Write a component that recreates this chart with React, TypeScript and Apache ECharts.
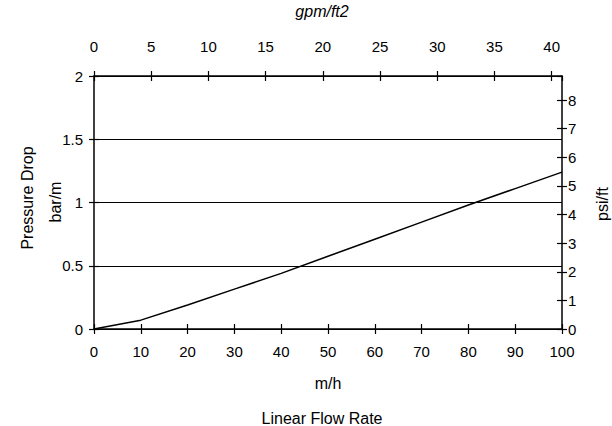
import React, { useEffect, useRef } from "react";
import * as echarts from "echarts";

// Linear flow rate (m/h) and pressure drop (bar/m)
const flowRate = [0, 10, 20, 30, 40, 50, 60, 70, 80, 90, 100];
const pressureDrop = [0, 0.07, 0.19, 0.315, 0.44, 0.575, 0.71, 0.845, 0.98, 1.11, 1.24];

// Secondary scales (unit conversions)
const M_H_PER_GPM_FT2 = 2.4448;
const PSI_FT_PER_BAR_M = 4.4208;

const bottomTicks = [0, 10, 20, 30, 40, 50, 60, 70, 80, 90, 100];
const topTicks = [0, 5, 10, 15, 20, 25, 30, 35, 40];
const leftTicks = [0, 0.5, 1, 1.5, 2];
const rightTicks = [0, 1, 2, 3, 4, 5, 6, 7, 8];

const FONT = "Liberation Sans, Arial, sans-serif";
const TICK_FS = 15;
const TITLE_FS = 16;

export default function App() {
  const ref = useRef<HTMLDivElement>(null);
  useEffect(() => {
    document.body.style.margin = "0";
    const chart = echarts.init(ref.current!, null, { renderer: "svg" });
    const xMax = bottomTicks[bottomTicks.length - 1];
    const yMax = leftTicks[leftTicks.length - 1];
    const topMax = xMax / M_H_PER_GPM_FT2;
    const rightMax = yMax * PSI_FT_PER_BAR_M;
    const lbl = { color: "#000", fontFamily: FONT, fontSize: TICK_FS };
    const line = { show: true, onZero: false, lineStyle: { color: "#000", width: 1.5 } };
    const noLine = { show: false, onZero: false };
    const tickOut = { show: true, length: 5, inside: false, lineStyle: { color: "#000", width: 1.2 } };
    const tickIn = { show: true, length: 5, inside: true, lineStyle: { color: "#000", width: 1.2 } };
    const hidden = { show: false };
    const title = (text: string, x: number, y: number, rot: number, extra: any = {}) => ({
      type: "text", x, y, rotation: rot,
      style: { text, fontFamily: FONT, fontSize: TITLE_FS, fill: "#000", align: "center", verticalAlign: "top", ...extra },
    });
    chart.setOption({
      animation: false,
      backgroundColor: "#fff",
      grid: { left: 94, right: 50, top: 76, bottom: 97, containLabel: false },
      xAxis: [
        {
          type: "value", position: "bottom", min: 0, max: xMax, interval: 10,
          axisLine: line, axisTick: tickOut, splitLine: hidden,
          axisLabel: { ...lbl, margin: 15 },
        },
        {
          type: "value", position: "bottom", min: 0, max: xMax, interval: 10,
          axisLine: noLine, axisTick: tickIn, splitLine: hidden, axisLabel: hidden,
        },
        {
          type: "value", position: "top", min: 0, max: topMax, interval: 5,
          axisLine: line, axisTick: tickOut, splitLine: hidden,
          axisLabel: { ...lbl, margin: 22, showMaxLabel: false,
            formatter: (v: number) => (topTicks.includes(v) ? String(v) : "") },
        },
        {
          type: "value", position: "top", min: 0, max: topMax, interval: 5,
          axisLine: noLine, axisTick: tickIn, splitLine: hidden, axisLabel: hidden,
        },
      ],
      yAxis: [
        {
          type: "value", position: "left", min: 0, max: yMax, interval: 0.5,
          axisLine: line, axisTick: tickOut,
          splitLine: { show: true, lineStyle: { color: "#000", width: 1 } },
          axisLabel: { ...lbl, margin: 11 },
        },
        {
          type: "value", position: "left", min: 0, max: yMax, interval: 0.5,
          axisLine: noLine, axisTick: tickIn, splitLine: hidden, axisLabel: hidden,
        },
        {
          type: "value", position: "right", min: 0, max: rightMax, interval: 1,
          axisLine: line, axisTick: tickOut, splitLine: hidden,
          axisLabel: { ...lbl, margin: 6, showMaxLabel: false,
            formatter: (v: number) => (rightTicks.includes(v) ? String(v) : "") },
        },
        {
          type: "value", position: "right", min: 0, max: rightMax, interval: 1,
          axisLine: noLine, axisTick: tickIn, splitLine: hidden, axisLabel: hidden,
        },
      ],
      graphic: [
        title("gpm/ft2", 322, 3, 0, { fontStyle: "italic" }),
        title("Pressure Drop", 19, 198, Math.PI / 2),
        title("bar/m", 47, 202, Math.PI / 2),
        title("psi/ft", 594, 204, Math.PI / 2),
        title("m/h", 328, 375, 0),
        title("Linear Flow Rate", 322, 410, 0),
      ],
      series: [
        {
          type: "line", xAxisIndex: 0, yAxisIndex: 0,
          data: flowRate.map((x, i) => [x, pressureDrop[i]]),
          showSymbol: false, symbol: "none",
          lineStyle: { color: "#000", width: 1.5 },
        },
      ],
    });
    return () => chart.dispose();
  }, []);
  return <div ref={ref} style={{ width: 612, height: 426 }} />;
}
